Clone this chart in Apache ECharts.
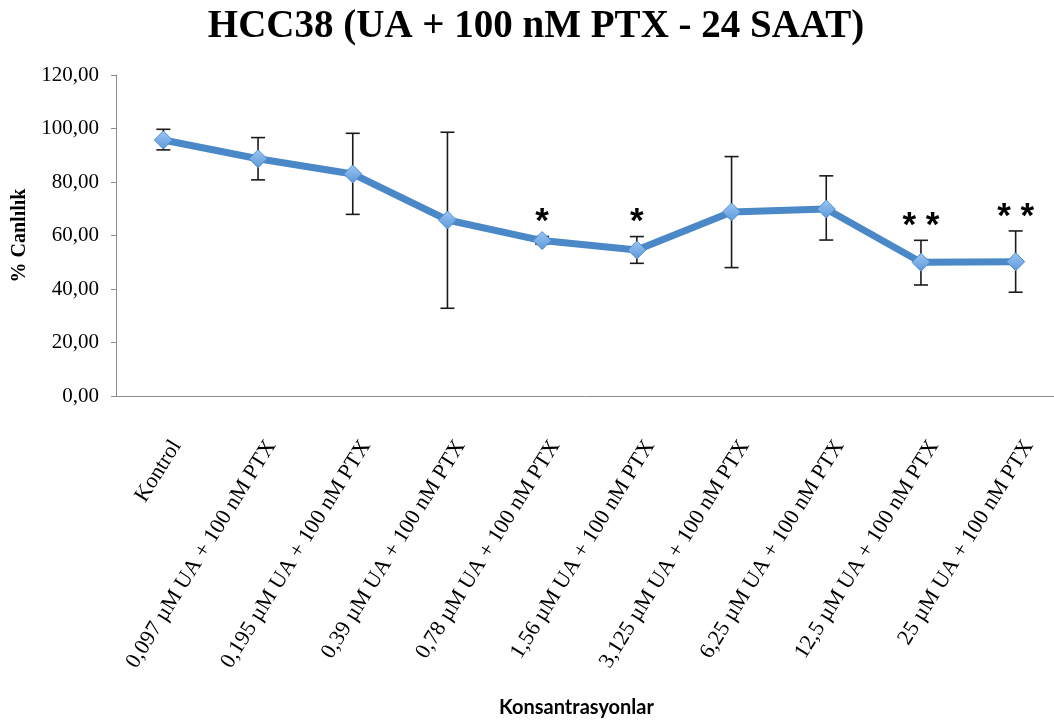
<!DOCTYPE html>
<html>
<head>
<meta charset="utf-8">
<script src="https://cdn.jsdelivr.net/npm/echarts@6/dist/echarts.min.js"></script>
<style>html,body{margin:0;padding:0;background:#fff;}#c{width:1054px;height:724px;}</style>
</head>
<body>
<div id="c"></div>
<script>
var categories = [
  'Kontrol',
  '0,097 µM UA + 100 nM PTX',
  '0,195 µM UA + 100 nM PTX',
  '0,39 µM UA + 100 nM PTX',
  '0,78 µM UA + 100 nM PTX',
  '1,56 µM UA + 100 nM PTX',
  '3,125 µM UA + 100 nM PTX',
  '6,25 µM UA + 100 nM PTX',
  '12,5 µM UA + 100 nM PTX',
  '25 µM UA + 100 nM PTX'
];
var viability = [95.7, 88.7, 83.0, 65.8, 58.1, 54.6, 68.8, 69.9, 50.0, 50.2];
var errorLow  = [92.0, 80.8, 67.9, 32.8, 56.8, 49.6, 48.0, 58.3, 41.5, 38.8];
var errorHigh = [99.7, 96.6, 98.2, 98.6, 59.6, 59.6, 89.5, 82.3, 58.2, 61.7];
var significance = ['', '', '', '', '*', '*', '', '', '* *', '* *'];
var yTicks = [0, 20, 40, 60, 80, 100, 120];

var errData = categories.map(function (c, i) { return [i, errorLow[i], errorHigh[i], significance[i]]; });

var chart = echarts.init(document.getElementById('c'), null, {renderer: 'canvas'});
chart.setOption({
  animation: false,
  backgroundColor: '#ffffff',
  title: {
    text: 'HCC38 (UA + 100 nM PTX - 24 SAAT)',
    left: 531, top: 2, textAlign: 'center',
    textStyle: {fontFamily: 'Liberation Serif', fontWeight: 'bold', fontSize: 39, color: '#000'}
  },
  grid: {left: 116, width: 947, top: 75, bottom: 328, containLabel: false, outerBoundsMode: 'none'},
  xAxis: {
    type: 'category',
    data: categories,
    boundaryGap: true,
    name: 'Konsantrasyonlar',
    nameLocation: 'middle',
    nameGap: 302,
    nameTextStyle: {fontFamily: 'Lato', fontWeight: 'bold', fontSize: 20, color: '#000', padding: [0, 26, 0, 0]},
    axisLine: {lineStyle: {color: '#8c8c8c', width: 1}},
    axisTick: {show: false},
    axisLabel: {
      interval: 0, rotate: 58, margin: 38,
      fontFamily: 'Liberation Serif', fontSize: 22, color: '#000',
      verticalAlign: 'top', lineHeight: 31
    }
  },
  yAxis: {
    type: 'value',
    min: 0, max: 120, interval: 20,
    name: '% Canlılık',
    nameLocation: 'middle',
    nameGap: 86,
    nameTextStyle: {fontFamily: 'Liberation Serif', fontWeight: 'bold', fontSize: 20, color: '#000'},
    axisLine: {show: true, lineStyle: {color: '#8c8c8c', width: 1}},
    axisTick: {show: true, inside: false, length: 5, lineStyle: {color: '#8c8c8c'}},
    splitLine: {show: false},
    axisLabel: {
      margin: 17,
      fontFamily: 'Liberation Serif', fontSize: 21, color: '#000',
      formatter: function (v) { return v.toFixed(2).replace('.', ','); }
    }
  },
  series: [
    {
      type: 'custom',
      z: 1,
      data: errData,
      renderItem: function (params, api) {
        var x = api.value(0);
        var lo = api.coord([x, api.value(1)]);
        var hi = api.coord([x, api.value(2)]);
        var cw = 7;
        var st = {stroke: '#1a1a1a', lineWidth: 1.6};
        var children = [
          {type: 'line', shape: {x1: lo[0], y1: lo[1], x2: hi[0], y2: hi[1]}, style: st},
          {type: 'line', shape: {x1: lo[0] - cw, y1: lo[1], x2: lo[0] + cw, y2: lo[1]}, style: st},
          {type: 'line', shape: {x1: hi[0] - cw, y1: hi[1], x2: hi[0] + cw, y2: hi[1]}, style: st}
        ];
        var s = significance[params.dataIndex];
        if (s) {
          children.push({type: 'text', x: hi[0], y: hi[1] - 14,
            style: {text: s, fill: '#000', font: 'bold 35px "Liberation Sans"', textAlign: 'center', textVerticalAlign: 'middle'}});
        }
        return {type: 'group', children: children};
      }
    },
    {
      type: 'line',
      z: 2,
      data: viability,
      symbol: 'diamond',
      symbolSize: 18,
      lineStyle: {color: '#4a88c8', width: 7},
      itemStyle: {
        color: new echarts.graphic.LinearGradient(0, 0, 0, 1, [
          {offset: 0, color: '#9cc6f2'},
          {offset: 1, color: '#5b98dc'}
        ]),
        borderColor: '#4f8ccc', borderWidth: 1
      }
    }
  ]
});
</script>
</body>
</html>
